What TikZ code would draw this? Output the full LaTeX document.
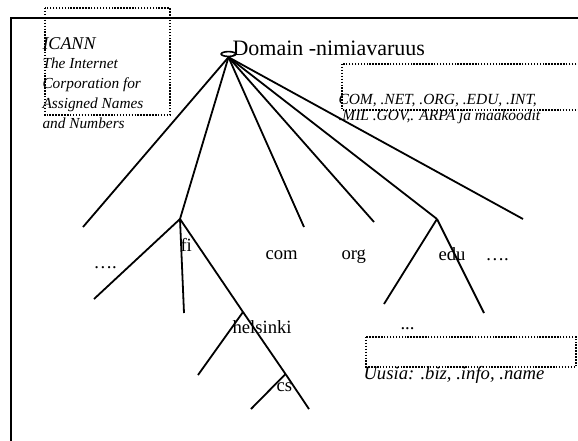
\documentclass[tikz,border=0pt]{standalone}
\usepackage{fontspec}
\setmainfont{Liberation Serif}
\usetikzlibrary{shapes.geometric}

\tikzset{every picture/.style={line width=0.75pt}}
\tikzset{
  branch/.style={line width=1.35pt},
  notebox/.style={line width=1pt, dash pattern=on 1.1pt off 1.1pt},
  lbl/.style={anchor=base west, inner sep=0pt, font=\fontsize{14}{16}\selectfont},
  note/.style={anchor=base west, inner sep=0pt, align=left, font=\fontsize{11.5}{14.8}\selectfont\itshape},
}

\begin{document}
\begin{tikzpicture}[x=0.75pt,y=0.75pt,yscale=-1,xscale=1]
		\useasboundingbox (0,0) rectangle (578,440);

		%Frame
		\draw [line width=1.6pt] (11,450) -- (11,18) -- (590,18) ;

		%Dotted boxes
		\draw [notebox] (45,8) rectangle (170,115) ;
		\draw [notebox] (342,64) rectangle (595,110) ;
		\draw [notebox] (366,337) rectangle (576,367) ;

		%Root
		\node [ellipse, draw, line width=1.2pt, fill=white, inner sep=0pt, minimum width=11pt, minimum height=3.6pt] (root) at (228.5,54) {};

		%Branch ends
		\coordinate (lft) at (83,227);
		\coordinate (fij) at (180,219);
		\coordinate (comend) at (304,227);
		\coordinate (orgend) at (374,222);
		\coordinate (eduj) at (437,219);
		\coordinate (rgt) at (523,219);
		\coordinate (fil) at (94,299);
		\coordinate (fim) at (184,313);
		\coordinate (hel) at (243,312);
		\coordinate (hell) at (198,375);
		\coordinate (csj) at (285.5,374);
		\coordinate (csl) at (251,409);
		\coordinate (csr) at (309,409);
		\coordinate (edul) at (384,304);
		\coordinate (edur) at (484,313);

		%Straight Lines
		\draw [branch] (root.south) -- (lft) ;
		\draw [branch] (root.south) -- (fij) ;
		\draw [branch] (root.south) -- (comend) ;
		\draw [branch] (root.south) -- (orgend) ;
		\draw [branch] (root.south) -- (eduj) ;
		\draw [branch] (root.south) -- (rgt) ;
		\draw [branch] (fij) -- (fil) ;
		\draw [branch] (fij) -- (fim) ;
		\draw [branch] (fij) -- (hel) -- (csj) -- (csr) ;
		\draw [branch] (hel) -- (hell) ;
		\draw [branch] (csj) -- (csl) ;
		\draw [branch] (eduj) -- (edul) ;
		\draw [branch] (eduj) -- (edur) ;

		% Text Node
		\node [lbl, font=\fontsize{16.5}{18}\selectfont] (title) at (232,55) {Domain -nimiavaruus};
		% Text Node (base = last line)
		\node [note] (icann) at (42,128) {{\fontsize{13.5}{14.8}\selectfont ICANN}\\The Internet\\Corporation for\\Assigned Names\\and Numbers};
		% Text Node (base = last line)
		\node [note, font=\fontsize{11.6}{12}\selectfont\itshape] (tld) at (338,120) {COM, .NET, .ORG, .EDU, .INT,\\.MIL .GOV,. ARPA ja maakoodit};
		% Text Node
		\node [note, font=\fontsize{14}{16}\selectfont\itshape] (uusia) at (363,379) {Uusia: .biz, .info, .name};
		% Text Node
		\node [lbl] (dotsl) at (93,268) {\char"2026.};
		\node [lbl] (fi) at (180,251) {fi};
		\node [lbl] (com) at (265,259) {com};
		\node [lbl] (org) at (341,259) {org};
		\node [lbl] (edu) at (438,260) {edu};
		\node [lbl] (dotsr) at (485,260) {\char"2026.};
		\node [lbl] (helsinki) at (232,333) {helsinki};
		\node [lbl] (dotse) at (400,329) {...};
		\node [lbl] (cs) at (276,391) {cs};

\end{tikzpicture}
\end{document}
